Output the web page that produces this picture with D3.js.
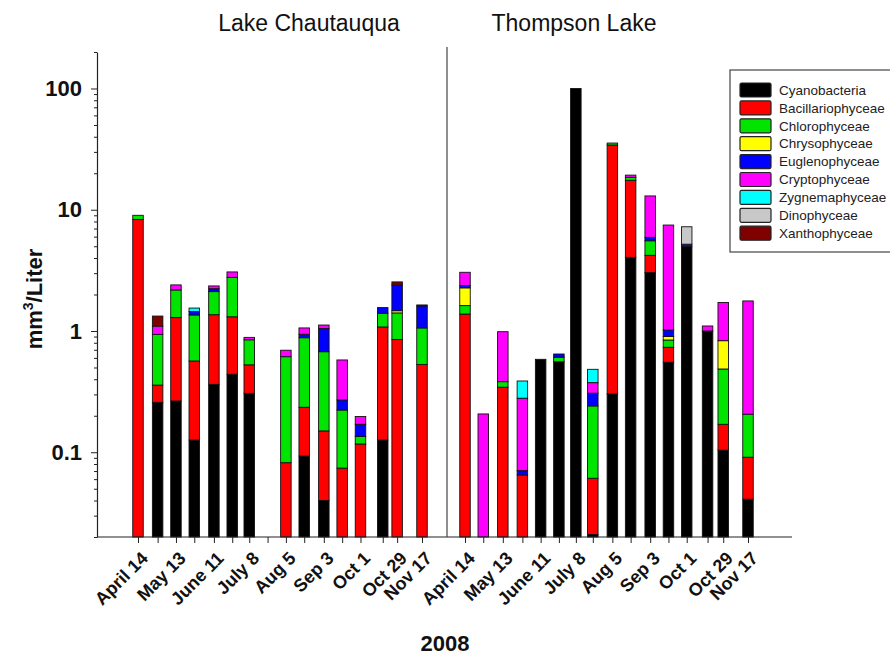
<!DOCTYPE html>
<html>
<head>
<meta charset="utf-8">
<script src="https://cdn.jsdelivr.net/npm/d3@7"></script>
<style>
    body { margin: 0; background: #fff; }
    text { font-family: "Liberation Sans", Arial, sans-serif; }
</style>
</head>
<body>
<svg id="chart" width="890" height="657"></svg>
<script>
// phytoplankton groups, bottom of the stack first
const species = ['Cyanobacteria', 'Bacillariophyceae', 'Chlorophyceae', 'Chrysophyceae',
    'Euglenophyceae', 'Cryptophyceae', 'Zygnemaphyceae', 'Dinophyceae', 'Xanthophyceae'];
const speciesColors = ['#000000', '#ff0000', '#00e400', '#ffff00', '#0000ff', '#ff00ff', '#00ffff', '#c8c8c8', '#800000'];

const lakes = ['Lake Chautauqua', 'Thompson Lake'];

const chautauquaDates = ['2008-04-14', '2008-04-29', '2008-05-13', '2008-05-27', '2008-06-11', '2008-06-25',
    '2008-07-08', '2008-07-22', '2008-08-05', '2008-08-19', '2008-09-03', '2008-09-17',
    '2008-10-01', '2008-10-18', '2008-10-29', '2008-11-17'];
const thompsonDates = ['2008-04-14', '2008-04-28', '2008-05-13', '2008-05-28', '2008-06-11', '2008-06-25',
    '2008-07-08', '2008-07-21', '2008-08-05', '2008-08-19', '2008-09-03', '2008-09-17',
    '2008-10-01', '2008-10-17', '2008-10-29', '2008-11-17'];

// dates that get a text label and their label
const labelledDates = ['2008-04-14', '2008-05-13', '2008-06-11', '2008-07-08', '2008-08-05',
    '2008-09-03', '2008-10-01', '2008-10-29', '2008-11-17'];
const tickLabels = ['April 14', 'May 13', 'June 11', 'July 8', 'Aug 5', 'Sep 3', 'Oct 1', 'Oct 29', 'Nov 17'];

const yTicks = [0.1, 1, 10, 100];
const yTickLabels = ['0.1', '1', '10', '100'];

// mm3/L per group (one row per group, same order as species), per sampling date
const chautauquaCyano   = [0, 0.258, 0.265, 0.126, 0.363, 0.44, 0.306, 0, 0, 0.093, 0.04, 0, 0, 0.126, 0, 0];
const chautauquaBacill  = [8.3, 0.10, 1.025, 0.44, 1.0, 0.87, 0.22, 0, 0.082, 0.142, 0.11, 0.074, 0.117, 0.954, 0.85, 0.53];
const chautauquaChloro  = [0.7, 0.58, 0.89, 0.79, 0.75, 1.46, 0.32, 0, 0.532, 0.645, 0.525, 0.149, 0.018, 0.32, 0.56, 0.53];
const chautauquaChryso  = [0, 0, 0, 0, 0, 0, 0, 0, 0, 0, 0, 0, 0, 0, 0.06, 0];
const chautauquaEugleno = [0, 0, 0, 0.09, 0.12, 0, 0, 0, 0, 0.06, 0.375, 0.047, 0.035, 0.16, 0.92, 0.55];
const chautauquaCrypto  = [0, 0.16, 0.22, 0, 0.12, 0.3, 0.04, 0, 0.08, 0.12, 0.07, 0.307, 0.027, 0, 0, 0.03];
const chautauquaZygne   = [0, 0, 0, 0.1, 0, 0, 0, 0, 0, 0, 0, 0, 0, 0, 0, 0];
const chautauquaDino    = [0, 0, 0, 0, 0, 0, 0, 0, 0, 0, 0, 0, 0, 0, 0, 0];
const chautauquaXantho  = [0, 0.23, 0, 0, 0, 0, 0, 0, 0, 0, 0, 0, 0, 0, 0.15, 0];

const thompsonCyano   = [0, 0, 0, 0, 0.584, 0.558, 100, 0.021, 0.303, 4.05, 3.03, 0.552, 4.96, 1.0, 0.104, 0.041];
const thompsonBacill  = [1.38, 0, 0.344, 0.065, 0, 0, 0, 0.04, 33.9, 13.45, 1.18, 0.182, 0, 0, 0.066, 0.05];
const thompsonChloro  = [0.24, 0, 0.038, 0, 0, 0.049, 0, 0.18, 1.3, 1.0, 1.34, 0.109, 0, 0, 0.316, 0.115];
const thompsonChryso  = [0.65, 0, 0, 0, 0, 0, 0, 0, 0, 0, 0, 0.057, 0, 0, 0.346, 0];
const thompsonEugleno = [0.1, 0, 0, 0.0055, 0, 0.039, 0, 0.066, 0, 0, 0.37, 0.12, 0.24, 0, 0, 0];
const thompsonCrypto  = [0.68, 0.207, 0.605, 0.2085, 0, 0, 0, 0.068, 0, 0.8, 7.08, 6.46, 0, 0.1, 0.888, 1.564];
const thompsonZygne   = [0, 0, 0, 0.108, 0, 0, 0, 0.108, 0, 0, 0, 0, 0, 0, 0, 0];
const thompsonDino    = [0, 0, 0, 0, 0, 0, 0, 0, 0, 0, 0, 0, 2.04, 0, 0, 0];
const thompsonXantho  = [0, 0, 0, 0, 0, 0, 0, 0, 0, 0, 0, 0, 0, 0, 0, 0];

const chautauquaValues = [chautauquaCyano, chautauquaBacill, chautauquaChloro, chautauquaChryso,
    chautauquaEugleno, chautauquaCrypto, chautauquaZygne, chautauquaDino, chautauquaXantho];
const thompsonValues = [thompsonCyano, thompsonBacill, thompsonChloro, thompsonChryso,
    thompsonEugleno, thompsonCrypto, thompsonZygne, thompsonDino, thompsonXantho];

const config = {
    margin: { top: 52, bottom: 120, left: 97 },
    baseY: 537,
    barWidth: 10.5,
    axisColor: '#222'
};

const parseDate = d3.utcParse('%Y-%m-%d');
const svg = d3.select('#chart');

// y: log scale shared by both panels
const yScale = d3.scaleLog()
    .domain([0.02, 200])
    .range([config.baseY, config.margin.top])
    .clamp(true);

// x: one time scale per lake, same days-per-pixel
const xScales = [
    d3.scaleUtc().domain([parseDate('2008-04-14'), parseDate('2008-11-17')]).range([138, 422]),
    d3.scaleUtc().domain([parseDate('2008-04-14'), parseDate('2008-11-17')]).range([465, 748])
];
const lakeDates = [chautauquaDates, thompsonDates];
const lakeValues = [chautauquaValues, thompsonValues];
const labelMap = new Map(labelledDates.map((d, i) => [+parseDate(d), tickLabels[i]]));

// bars
lakes.forEach((lake, li) => {
    const x = xScales[li];
    const table = lakeDates[li].map((d, i) => {
        const row = { date: parseDate(d) };
        species.forEach((s, si) => row[s] = lakeValues[li][si][i]);
        return row;
    });
    const stacked = d3.stack().keys(species)(table);

    const groups = svg.append('g').attr('class', 'bars')
        .selectAll('g')
        .data(stacked)
        .join('g')
        .attr('fill', (d, i) => speciesColors[i]);

    groups.selectAll('rect')
        .data(d => d.filter(p => p[1] - p[0] > 0))
        .join('rect')
        .attr('x', d => x(d.data.date) - config.barWidth / 2)
        .attr('width', config.barWidth)
        .attr('y', d => yScale(Math.max(d[1], 0.02)))
        .attr('height', d => yScale(Math.max(d[0], 0.02)) - yScale(Math.max(d[1], 0.02)))
        .attr('stroke', '#111')
        .attr('stroke-width', 0.9);

    // x axis with a tick on each sampling date
    const xAxisG = svg.append('g')
        .attr('transform', `translate(0,${config.baseY})`)
        .call(d3.axisBottom(x)
            .tickValues(lakeDates[li].map(parseDate))
            .tickSize(6)
            .tickFormat(d => labelMap.get(+d) || ''));
    xAxisG.select('.domain').remove();
    xAxisG.selectAll('.tick line').attr('stroke', config.axisColor);
    xAxisG.selectAll('.tick text')
        .attr('x', 0).attr('y', 0).attr('dy', '0.35em')
        .attr('text-anchor', 'end')
        .attr('transform', 'translate(6,18) rotate(-45)')
        .attr('font-family', '"Liberation Sans", Arial, sans-serif')
        .attr('font-size', 18)
        .attr('font-weight', 'bold')
        .attr('fill', '#111');

    // lake title
    svg.append('text')
        .attr('x', li === 0 ? 309 : 574)
        .attr('y', 31)
        .attr('text-anchor', 'middle')
        .attr('font-size', 23)
        .attr('fill', '#111')
        .text(lake);
});

// bottom axis line and panel divider
svg.append('line')
    .attr('x1', config.margin.left).attr('x2', 792)
    .attr('y1', config.baseY).attr('y2', config.baseY)
    .attr('stroke', config.axisColor).attr('stroke-width', 1.2);
svg.append('line')
    .attr('x1', 447).attr('x2', 447)
    .attr('y1', 47).attr('y2', config.baseY)
    .attr('stroke', '#444').attr('stroke-width', 1.2);

// y axis: minor ticks
const minorTicks = [];
[0.01, 0.1, 1, 10, 100].forEach(p => {
    for (let k = 2; k <= 9; k++) {
        const v = +(k * p).toPrecision(3);
        if (v >= 0.02 && v <= 200) minorTicks.push(v);
    }
});
const yMinorG = svg.append('g')
    .attr('transform', `translate(${config.margin.left},0)`)
    .call(d3.axisLeft(yScale).tickValues(minorTicks).tickSize(3).tickSizeOuter(0).tickFormat(''));
yMinorG.select('.domain').attr('stroke', config.axisColor).attr('stroke-width', 1.2);
yMinorG.selectAll('.tick line').attr('stroke', config.axisColor);

// y axis: labelled ticks
const yAxisG = svg.append('g')
    .attr('transform', `translate(${config.margin.left},0)`)
    .call(d3.axisLeft(yScale)
        .tickValues(yTicks)
        .tickSize(6)
        .tickPadding(9)
        .tickFormat((d, i) => yTickLabels[i]));
yAxisG.select('.domain').remove();
yAxisG.selectAll('.tick line').attr('stroke', config.axisColor);
yAxisG.selectAll('.tick text')
    .attr('font-family', '"Liberation Sans", Arial, sans-serif')
    .attr('font-size', 22)
    .attr('font-weight', 'bold')
    .attr('fill', '#111');

// axis titles
const yTitle = svg.append('text')
    .attr('transform', 'translate(42,299) rotate(-90)')
    .attr('text-anchor', 'middle')
    .attr('font-size', 22)
    .attr('font-weight', 'bold')
    .attr('fill', '#111');
yTitle.append('tspan').text('mm');
yTitle.append('tspan').attr('font-size', 14).attr('dy', -9).text('3');
yTitle.append('tspan').attr('dy', 9).text('/Liter');

svg.append('text')
    .attr('x', 445)
    .attr('y', 651)
    .attr('text-anchor', 'middle')
    .attr('font-size', 22)
    .attr('font-weight', 'bold')
    .attr('fill', '#111')
    .text('2008');

// legend
const legend = svg.append('g').attr('transform', 'translate(730,70)');
legend.append('rect')
    .attr('width', 175).attr('height', 182)
    .attr('fill', '#fff')
    .attr('stroke', '#444').attr('stroke-width', 1.2);
const legendRows = legend.selectAll('.legend-row')
    .data(species)
    .join('g')
    .attr('class', 'legend-row')
    .attr('transform', (d, i) => `translate(0,${20 + i * 17.9})`);
legendRows.append('rect')
    .attr('x', 10).attr('y', -7)
    .attr('width', 31).attr('height', 14)
    .attr('rx', 1.5)
    .attr('fill', (d, i) => speciesColors[i])
    .attr('stroke', '#222').attr('stroke-width', 1.2);
legendRows.append('text')
    .attr('x', 49)
    .attr('dy', '0.35em')
    .attr('font-size', 13.5)
    .attr('fill', '#222')
    .text(d => d);
</script>
</body>
</html>
